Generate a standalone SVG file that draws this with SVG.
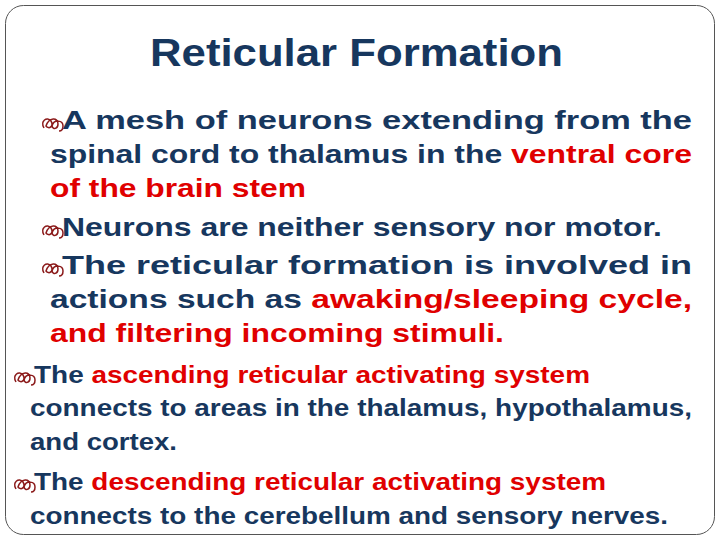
<svg xmlns="http://www.w3.org/2000/svg" width="720" height="540" viewBox="0 0 720 540">
<defs>
<style>
.t{font-family:"Liberation Sans",Arial,sans-serif;font-weight:bold;fill:#17375e}
.a{font-size:26px}.b{font-size:24px}
.r{fill:#e00000}
.bl{fill:none;stroke:#8b1a1a;stroke-width:1.5}
</style>
<g id="bul"><path class="bl" d="M0,0 c-4,-7 3,-12 7,-7 c3,5 -2,9 -5,5 c3,-9 12,-9 12,-2 c0,5 -5,6 -6,2 c2,-7 11,-6 11,0 c0,4 -2,5 -4,5"/></g>
</defs>
<rect x="5.5" y="5.5" width="709" height="529" rx="18" fill="#fff" stroke="#555" stroke-width="1"/>
<text class="t" x="150" y="66" font-size="38" textLength="413" lengthAdjust="spacingAndGlyphs">Reticular Formation</text>
<use href="#bul" x="44" y="128"/>
<text class="t a" x="62" y="129" textLength="630" lengthAdjust="spacingAndGlyphs">A mesh of neurons extending from the</text>
<text class="t a" x="50" y="163" textLength="642" lengthAdjust="spacingAndGlyphs">spinal cord to thalamus in the <tspan class="r">ventral core</tspan></text>
<text class="t a r" x="50" y="197" textLength="256" lengthAdjust="spacingAndGlyphs">of the brain stem</text>
<use href="#bul" x="44" y="235"/>
<text class="t a" x="62" y="236" textLength="600" lengthAdjust="spacingAndGlyphs">Neurons are neither sensory nor motor.</text>
<use href="#bul" x="44" y="273"/>
<text class="t a" x="62" y="274" textLength="630" lengthAdjust="spacingAndGlyphs">The reticular formation is involved in</text>
<text class="t a" x="50" y="308" textLength="642" lengthAdjust="spacingAndGlyphs">actions such as <tspan class="r">awaking/sleeping cycle,</tspan></text>
<text class="t a r" x="50" y="342" textLength="454" lengthAdjust="spacingAndGlyphs">and filtering incoming stimuli.</text>
<use href="#bul" x="16" y="382"/>
<text class="t b" x="34" y="383" textLength="556" lengthAdjust="spacingAndGlyphs">The <tspan class="r">ascending reticular activating system</tspan></text>
<text class="t b" x="30" y="416" textLength="662" lengthAdjust="spacingAndGlyphs">connects to areas in the thalamus, hypothalamus,</text>
<text class="t b" x="30" y="450" textLength="147" lengthAdjust="spacingAndGlyphs">and cortex.</text>
<use href="#bul" x="16" y="489"/>
<text class="t b" x="34" y="490" textLength="572" lengthAdjust="spacingAndGlyphs">The <tspan class="r">descending reticular activating system</tspan></text>
<text class="t b" x="30" y="524" textLength="638" lengthAdjust="spacingAndGlyphs">connects to the cerebellum and sensory nerves.</text>
</svg>
